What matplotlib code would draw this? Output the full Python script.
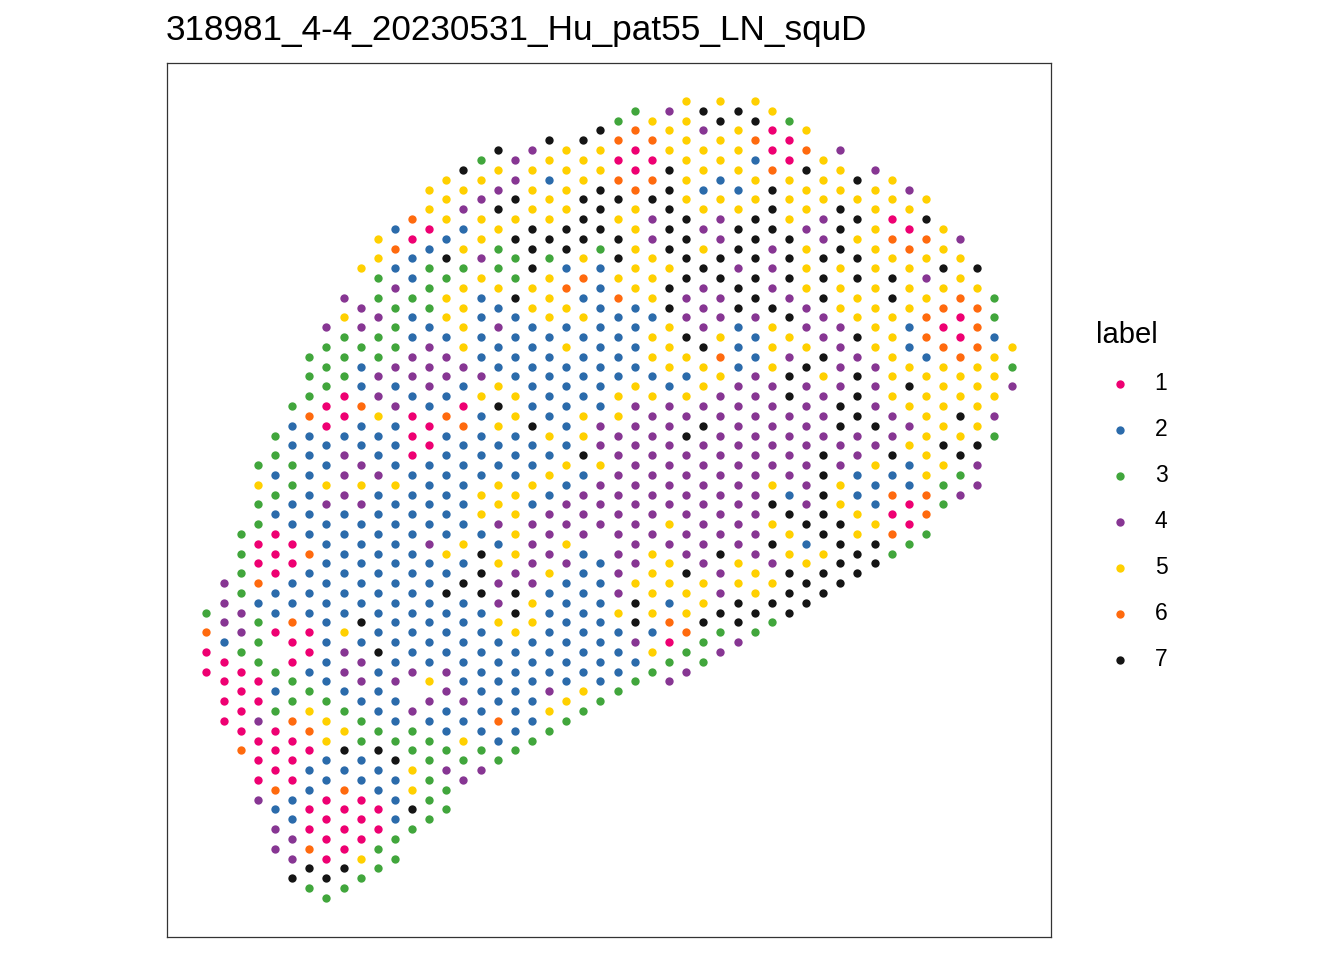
import numpy as np
import matplotlib
matplotlib.use("Agg")
import matplotlib.pyplot as plt

plt.rcParams["font.family"] = ["Liberation Sans", "DejaVu Sans"]

title = "318981_4-4_20230531_Hu_pat55_LN_squD"
label_names = ["1", "2", "3", "4", "5", "6", "7"]
label_colors = ["#EE0072", "#2B6BAB", "#41A63C", "#873693", "#FFD000", "#FF6A0E", "#151515"]

# first lattice row of every spot column, left to right
first_row = [52, 49, 44, 37, 34, 31, 26, 23, 20, 17, 14, 13, 12, 9, 8, 7,
             6, 5, 6, 5, 4, 5, 4, 3, 2, 1, 2, 1, 0, 1, 0, 1,
             0, 1, 2, 3, 6, 5, 8, 7, 8, 9, 10, 13, 14, 17, 20, 25]

# cluster of each spot, top to bottom, "." is a missing spot
spots = [
    "3611",
    "44421111",
    "333344311116",
    "353311623331141114",
    "3323" "2111221.32" "31116244",
    "32233" "22112261133" "611122447",
    "33362222" "2262221123" "5612211673",
    "433311225" "42222222223" "5522111173",
    "45333112444" "2222225442" "3572611173",
    "5." "4432262245" "42222272442" "332211153",
    "5533" "4334452242" "2222222722" "237221133",
    "2624" "3334242225" "22222222242" "23722233",
    "61223" "2244211122" "22222222" "4." "4335573",
    "551233" "3244421122" "22422222254" "233333",
    "5552735" "5244262222" "2252722244" "223433",
    "7542535" "5554216222" "22527222224" "2534",
    "35455452" "2224522225" "5277722222" "2234",
    "75475335" "2422575225" "54254452222" "623",
    "44757337" "2222552225" "5554775222" "223",
    "45557775" "5222227225" "24444552222" "23",
    "752557355" "5222225252" "4445222224" "53",
    "55557726" "5252222252" "44542222225" "3",
    "755777562" "5222255724" "4422222225" "3",
    "755777322" "2222224454" "44.22222223",
    "3616757756" "2222554444" "4444452223",
    "3611655555" "2222544444" "4444577423",
    "5616744555" "2552544444" "445555253",
    "4557777757" "7555244444" "4545526134",
    "55555577774" "4752547444" "444755634",
    "7455254574" "4475547444" "444455733",
    "57552544774" "4565444444" "44744734",
    "7555257747" "7222444444" "44455774",
    "57625577777" "4224444444" "4445573",
    "5116777444" "7555444445" "7574573",
    "3115557774" "7547744442" "755777",
    "567554555" "4457444444" "472577",
    "55544777" "4475444777" "77577",
    "45577755" "5444477445" "57777",
    "7575775" "5747774422" "5577",
    "4555555" "5554447452" "2577",
    "5516577" "5555544726" "163",
    "451655" "5225754522" "113",
    "576545" "6625555556" "63",
    "5575" "6165555753" "3",
    "4556" "1165575734",
    "75" "6665555744",
    "33255543",
    "534",
]

cols, rows, labels = [], [], []
for c, (start, column) in enumerate(zip(first_row, spots)):
    for k, lab in enumerate(column):
        if lab != ".":
            cols.append(c)
            rows.append(start + 2 * k)
            labels.append(lab)
cols = np.array(cols)
rows = np.array(rows)
labels = np.array(labels)

fig = plt.figure(figsize=(13.44, 9.6), dpi=100)
ax = fig.add_axes([167 / 1344, 1 - 937 / 960, (1051 - 167) / 1344, (937 - 63) / 960])

for name, color in zip(label_names, label_colors):
    mask = labels == name
    ax.scatter(cols[mask], rows[mask], s=36, c=color, linewidths=0, label=name)

ax.set_xlim(-2.305, 49.30)
ax.set_ylim(84.97, -3.86)
ax.set_xticks([])
ax.set_yticks([])
for spine in ax.spines.values():
    spine.set_color("#333333")
    spine.set_linewidth(0.9)

fig.text(166 / 1344, 1 - 40 / 960, title, fontsize=25.3, color="black", ha="left", va="baseline")

leg = ax.legend(loc="upper left", bbox_to_anchor=(1087 / 1344, 1 - 312 / 960),
                bbox_transform=fig.transFigure, frameon=False, title="label",
                fontsize=16.5, title_fontsize=21, alignment="left",
                labelspacing=1.0, handlelength=2.1, handletextpad=0.45,
                borderpad=0.4, borderaxespad=0)

fig.savefig("out.png", dpi=100)
